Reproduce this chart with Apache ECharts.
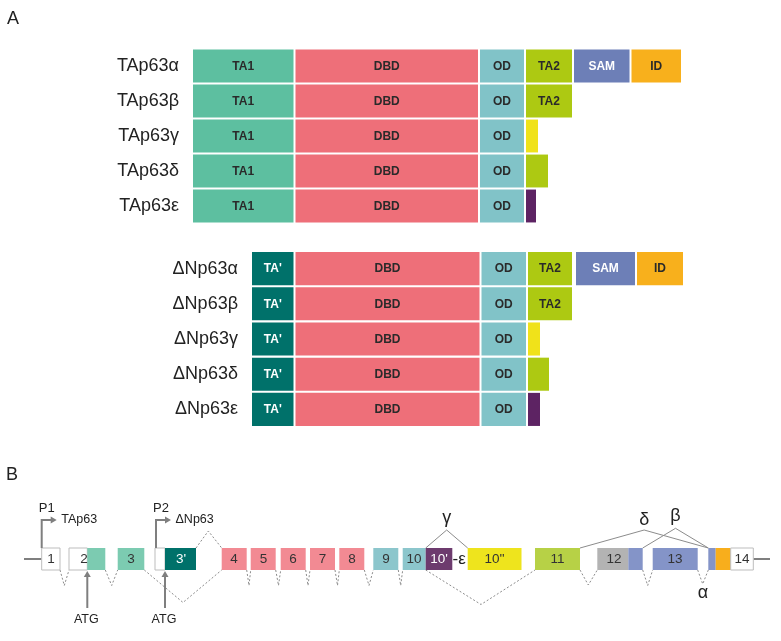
<!DOCTYPE html>
<html><head><meta charset="utf-8">
<script src="https://cdn.jsdelivr.net/npm/echarts/dist/echarts.min.js"></script>
<style>html,body{margin:0;padding:0;background:#fff}#c{width:781px;height:641px}</style>
</head><body><div id="c"></div>
<script>
// ---------- Panel A: protein isoforms ----------
const taIsoforms = ['TAp63α','TAp63β','TAp63γ','TAp63δ','TAp63ε'];
const dnIsoforms = ['ΔNp63α','ΔNp63β','ΔNp63γ','ΔNp63δ','ΔNp63ε'];
// [row, start, end, domain]
const taDomains = [
  [0,0,102.5,'TA1'],[0,102.5,287,'DBD'],[0,287,333,'OD'],[0,333,381,'TA2'],[0,381,438.5,'SAM'],[0,438.5,490,'ID'],
  [1,0,102.5,'TA1'],[1,102.5,287,'DBD'],[1,287,333,'OD'],[1,333,381,'TA2'],
  [2,0,102.5,'TA1'],[2,102.5,287,'DBD'],[2,287,333,'OD'],[2,333,347,'γ'],
  [3,0,102.5,'TA1'],[3,102.5,287,'DBD'],[3,287,333,'OD'],[3,333,357,'δ'],
  [4,0,102.5,'TA1'],[4,102.5,287,'DBD'],[4,287,333,'OD'],[4,333,345,'ε']
];
const dnDomains = [
  [0,59,102.5,"TA'"],[0,102.5,288.5,'DBD'],[0,288.5,335,'OD'],[0,335,381,'TA2'],[0,383,444,'SAM'],[0,444,492,'ID'],
  [1,59,102.5,"TA'"],[1,102.5,288.5,'DBD'],[1,288.5,335,'OD'],[1,335,381,'TA2'],
  [2,59,102.5,"TA'"],[2,102.5,288.5,'DBD'],[2,288.5,335,'OD'],[2,335,349,'γ'],
  [3,59,102.5,"TA'"],[3,102.5,288.5,'DBD'],[3,288.5,335,'OD'],[3,335,358,'δ'],
  [4,59,102.5,"TA'"],[4,102.5,288.5,'DBD'],[4,288.5,335,'OD'],[4,335,349,'ε']
];
const domainColors = {'TA1':'#5dbfa0',"TA'":'#00716a','DBD':'#ee6f79','OD':'#81c3c8','TA2':'#adc912','SAM':'#6d7fb7','ID':'#f8b01c','γ':'#f0e21a','δ':'#adc912','ε':'#5d2363'};
const domainText = {'TA1':'#2a2a2a',"TA'":'#ffffff','DBD':'#2a2a2a','OD':'#2a2a2a','TA2':'#2a2a2a','SAM':'#ffffff','ID':'#2a2a2a'};

// ---------- Panel B: gene structure ----------
// exon parts: [start, end, fill]
const exonParts = [
  [41.7,60,'utr'],[69,87.3,'utr'],[87.3,105.3,'ta'],[117.7,144.3,'ta'],[155,165,'utr'],[165,196,'tap'],
  [221.7,246.7,'dbd'],[250.7,275.7,'dbd'],[280.7,305.7,'dbd'],[310,335,'dbd'],[339.3,364.3,'dbd'],
  [373.3,398.3,'od'],[402.7,425.7,'od'],[425.7,452.3,'eps'],[467.7,521.5,'gam'],[535,580,'ta2'],
  [597.3,628.3,'grey'],[628.3,642.7,'sam'],[652.7,697.7,'sam'],[708.3,715.7,'sam'],[715.7,730.7,'id'],[730.7,753.3,'utr']
];
const exonFill = {utr:'#ffffff',ta:'#7ccbb1',tap:'#00716a',dbd:'#f28a93',od:'#8cc6cc',eps:'#6d3b6e',gam:'#eee41d',ta2:'#b7d146',grey:'#b3b3b3',sam:'#8494c8',id:'#f8ae1c'};
// exon labels: [centre, text]
const exonLabels = [[51,'1'],[84,'2'],[131,'3'],[181,"3'"],[234,'4'],[263.5,'5'],[293,'6'],[322.5,'7'],[352,'8'],
  [386,'9'],[414,'10'],[439,"10'"],[494.5,"10''"],[557.5,'11'],[614,'12'],[675,'13'],[742,'14']];
const whiteLabels = ["3'","10'"];
const backbone = [[24,41.7],[753.3,770]];
// splice junctions below exons (dotted): [from, to, apex x, apex y]
const splicesBelow = [[60,69,64.3,-26.5],[105.3,117.7,111.7,-26.5],[144.3,221.7,183,-43.5],[246.7,250.7,249,-26.5],
  [275.7,280.7,278.5,-26.5],[305.7,310,308,-26.5],[335,339.3,337.5,-26.5],[364.3,373.3,369,-26.5],[398.3,402.7,400.7,-26.5],
  [425.7,535,481,-45.5],[580,597.3,588.3,-26],[642.7,652.7,647.7,-26.5],[697.7,708.3,702.7,-25]];
const splicesAboveDotted = [[196,221.7,208.3,28]];
// isoform-specific splices (solid): [from, to, apex, label, labelY]
const isoSplices = [[425.7,467.7,29,'γ',40.5],[580,708.3,29,'δ',39],[642.7,708.3,30.7,'β',42.5]];
const alphaMark = [[703,-34.5,'α']];
const epsMark = [[452.5,0,'-ε']];
const promoters = [[41.7,'P1','TAp63'],[156,'P2','ΔNp63']];
const atgSites = [87.3,165];

const FONT = "'Liberation Sans', Arial, Helvetica, sans-serif";
const GREY = '#7f7f7f';

function domainRender(list){
  return function(params, api){
    const d = list[params.dataIndex];
    const p0 = api.coord([api.value(0), api.value(2)]);
    const p1 = api.coord([api.value(1), api.value(2)]);
    const bh = api.size([0,1])[1]*0.94;
    const x = p0[0]+1, w = p1[0]-p0[0]-2;
    const ch = [{type:'rect', shape:{x:x, y:p0[1]-bh/2, width:w, height:bh}, style:{fill:domainColors[d[3]]}}];
    if (domainText[d[3]]) ch.push({type:'text', style:{text:d[3], x:x+w/2, y:p0[1]+0.5, align:'center', verticalAlign:'middle',
      fill:domainText[d[3]], fontSize:12, fontWeight:'bold', fontFamily:FONT}});
    return {type:'group', children:ch};
  };
}

const B = {coordinateSystem:'cartesian2d', xAxisIndex:2, yAxisIndex:2, type:'custom', silent:true};
const series = [
  {type:'custom', coordinateSystem:'cartesian2d', xAxisIndex:0, yAxisIndex:0, silent:true,
   data: taDomains.map(d=>[d[1],d[2],d[0]]), encode:{x:[0,1], y:2}, renderItem: domainRender(taDomains)},
  {type:'custom', coordinateSystem:'cartesian2d', xAxisIndex:1, yAxisIndex:1, silent:true,
   data: dnDomains.map(d=>[d[1],d[2],d[0]]), encode:{x:[0,1], y:2}, renderItem: domainRender(dnDomains)},
  // backbone
  Object.assign({}, B, {data: backbone, encode:{x:[0,1]}, renderItem:(p, api)=>{
    const a = api.coord([api.value(0),0]), b = api.coord([api.value(1),0]);
    return {type:'line', shape:{x1:a[0],y1:a[1],x2:b[0],y2:b[1]}, style:{stroke:GREY, lineWidth:2}};
  }}),
  // splices below (dotted)
  Object.assign({}, B, {data: splicesBelow, encode:{x:[0,1,2], y:3}, renderItem:(p, api)=>{
    const f=api.value(0), t=api.value(1), ax=api.value(2), ap=api.value(3);
    return {type:'polyline', shape:{points:[api.coord([f,-11]), api.coord([ax,ap]), api.coord([t,-11])]},
      style:{stroke:'#8c8c8c', lineWidth:1, lineDash:[2,2], fill:null}};
  }}),
  Object.assign({}, B, {data: splicesAboveDotted, encode:{x:[0,1,2], y:3}, renderItem:(p, api)=>{
    const f=api.value(0), t=api.value(1), ax=api.value(2), ap=api.value(3);
    return {type:'polyline', shape:{points:[api.coord([f,11]), api.coord([ax,ap]), api.coord([t,11])]},
      style:{stroke:'#8c8c8c', lineWidth:1, lineDash:[2,2], fill:null}};
  }}),
  // isoform splices (solid) + greek labels
  Object.assign({}, B, {data: isoSplices.map(s=>[s[0],s[1],s[2],s[4]]), encode:{x:[0,1], y:2}, renderItem:(p, api)=>{
    const f=api.value(0), t=api.value(1), ap=api.value(2), ly=api.value(3);
    const lp = api.coord([(f+t)/2, ly]);
    return {type:'group', children:[
      {type:'polyline', shape:{points:[api.coord([f,11]), api.coord([(f+t)/2,ap]), api.coord([t,11])]},
       style:{stroke:'#8c8c8c', lineWidth:1, fill:null}},
      {type:'text', style:{text:isoSplices[p.dataIndex][3], x:lp[0], y:lp[1], align:'center', verticalAlign:'middle',
       fill:'#222', fontSize:18, fontFamily:FONT}}
    ]};
  }}),
  // exons
  Object.assign({}, B, {data: exonParts.map(e=>[e[0],e[1]]), encode:{x:[0,1]}, renderItem:(p, api)=>{
    const e = exonParts[p.dataIndex];
    const a = api.coord([api.value(0),11]), b = api.coord([api.value(1),-11]);
    const isUtr = e[2]==='utr';
    return {type:'rect', shape:{x:a[0], y:a[1], width:b[0]-a[0], height:b[1]-a[1]},
      style:{fill:exonFill[e[2]], stroke:isUtr?'#bdbdbd':null, lineWidth:1}};
  }}),
  // exon labels
  Object.assign({}, B, {data: exonLabels.map(l=>[l[0],0]), encode:{x:0,y:1}, renderItem:(p, api)=>{
    const l = exonLabels[p.dataIndex];
    const c = api.coord([api.value(0), api.value(1)]);
    return {type:'text', style:{text:l[1], x:c[0], y:c[1]+0.5, align:'center', verticalAlign:'middle',
      fill: whiteLabels.includes(l[1])?'#ffffff':'#333333', fontSize:13.5, fontFamily:FONT}};
  }}),
  // epsilon + alpha marks
  Object.assign({}, B, {data: epsMark.map(m=>[m[0],m[1]]), encode:{x:0,y:1}, renderItem:(p, api)=>{
    const c = api.coord([api.value(0), api.value(1)]);
    return {type:'text', style:{text:epsMark[p.dataIndex][2], x:c[0], y:c[1], align:'left', verticalAlign:'middle',
      fill:'#222', fontSize:17, fontFamily:FONT}};
  }}),
  Object.assign({}, B, {data: alphaMark.map(m=>[m[0],m[1]]), encode:{x:0,y:1}, renderItem:(p, api)=>{
    const c = api.coord([api.value(0), api.value(1)]);
    return {type:'text', style:{text:alphaMark[p.dataIndex][2], x:c[0], y:c[1], align:'center', verticalAlign:'middle',
      fill:'#222', fontSize:18, fontFamily:FONT}};
  }}),
  // promoters
  Object.assign({}, B, {data: promoters.map(pr=>[pr[0],11]), encode:{x:0,y:1}, renderItem:(p, api)=>{
    const pr = promoters[p.dataIndex];
    const base = api.coord([api.value(0), 11]);
    const top = api.coord([api.value(0), 39]);
    const tipX = top[0]+15;
    const lab = api.coord([api.value(0), 50.5]);
    return {type:'group', children:[
      {type:'polyline', shape:{points:[base, top, [tipX-4, top[1]]]}, style:{stroke:GREY, lineWidth:2, fill:null}},
      {type:'polygon', shape:{points:[[tipX, top[1]],[tipX-6, top[1]-3.5],[tipX-6, top[1]+3.5]]}, style:{fill:GREY}},
      {type:'text', style:{text:pr[1], x:lab[0]+5, y:lab[1], align:'center', verticalAlign:'middle', fill:'#222', fontSize:13, fontFamily:FONT}},
      {type:'text', style:{text:pr[2], x:top[0]+19.5, y:top[1], align:'left', verticalAlign:'middle', fill:'#222', fontSize:12.5, fontFamily:FONT}}
    ]};
  }}),
  // ATG start sites
  Object.assign({}, B, {data: atgSites.map(x=>[x,-12]), encode:{x:0,y:1}, renderItem:(p, api)=>{
    const tip = api.coord([api.value(0), -12]);
    const bot = api.coord([api.value(0), -49]);
    const lab = api.coord([api.value(0), -61]);
    return {type:'group', children:[
      {type:'line', shape:{x1:bot[0], y1:bot[1], x2:tip[0], y2:tip[1]+5}, style:{stroke:GREY, lineWidth:2}},
      {type:'polygon', shape:{points:[[tip[0], tip[1]],[tip[0]-3.5, tip[1]+6],[tip[0]+3.5, tip[1]+6]]}, style:{fill:GREY}},
      {type:'text', style:{text:'ATG', x:lab[0]-1, y:lab[1], align:'center', verticalAlign:'middle', fill:'#222', fontSize:12.5, fontFamily:FONT}}
    ]};
  }})
];

const catAxis = (names)=>({type:'category', data:names, inverse:true, axisLine:{show:false}, axisTick:{show:false},
  splitLine:{show:false}, axisLabel:{fontSize:18, color:'#222', margin:13, fontFamily:FONT}});

const chart = echarts.init(document.getElementById('c'), null, {renderer:'canvas'});
chart.setOption({
  animation:false,
  backgroundColor:'#ffffff',
  title:[
    {text:'A', left:7, top:10, padding:0, textStyle:{fontSize:18, fontWeight:'normal', color:'#222', fontFamily:FONT}},
    {text:'B', left:6, top:466, padding:0, textStyle:{fontSize:18, fontWeight:'normal', color:'#222', fontFamily:FONT}}
  ],
  grid:[
    {left:192, right:89, top:48.5, height:175},
    {left:251, right:89, top:251, height:176},
    {left:0, right:0, top:500, height:141}
  ],
  xAxis:[
    {type:'value', gridIndex:0, min:0, max:500, show:false},
    {type:'value', gridIndex:1, min:59, max:500, show:false},
    {type:'value', gridIndex:2, min:0, max:781, show:false}
  ],
  yAxis:[
    Object.assign({gridIndex:0}, catAxis(taIsoforms)),
    Object.assign({gridIndex:1}, catAxis(dnIsoforms)),
    {type:'value', gridIndex:2, min:-82, max:59, show:false}
  ],
  series: series
});
</script></body></html>
